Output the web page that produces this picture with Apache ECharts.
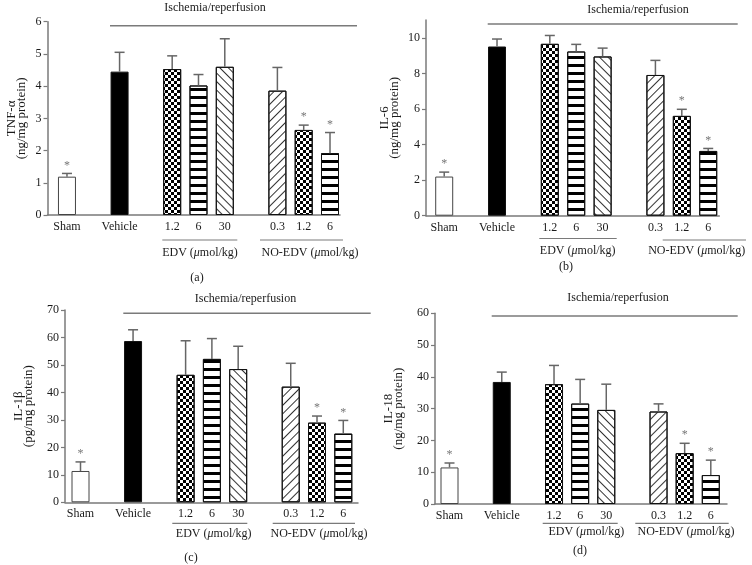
<!DOCTYPE html>
<html><head><meta charset="utf-8">
<script src="https://cdn.jsdelivr.net/npm/echarts@6/dist/echarts.min.js"></script>
<style>html,body{margin:0;padding:0;background:#fff}#c{width:752px;height:565px}</style>
</head><body><div id="c"></div>
<script>
// ---------------- data ----------------
const categories = ['Sham', 'Vehicle', '1.2', '6', '30', '0.3', '1.2', '6'];
const groupNames = ['EDV', 'NO-EDV'];
const groupUnit = ['\u03bc', 'mol/kg'];
const headerText = 'Ischemia/reperfusion';
const significant = [1, 0, 0, 0, 0, 0, 1, 1];

const tnfMean = [1.19, 4.45, 4.53, 4.02, 4.60, 3.86, 2.64, 1.92];
const tnfErr  = [0.10, 0.60, 0.41, 0.34, 0.87, 0.72, 0.15, 0.64];
const il6Mean = [2.20, 9.51, 9.66, 9.23, 8.95, 7.91, 5.61, 3.64];
const il6Err  = [0.25, 0.42, 0.47, 0.40, 0.47, 0.82, 0.37, 0.14];
const il1bMean = [11.4, 58.7, 46.4, 52.2, 48.5, 42.1, 29.0, 25.0];
const il1bErr  = [3.3, 4.1, 12.4, 7.4, 8.3, 8.5, 2.4, 4.8];
const il18Mean = [11.5, 38.4, 37.7, 31.6, 29.6, 29.1, 16.0, 9.1];
const il18Err  = [1.4, 3.1, 5.9, 7.6, 8.1, 2.4, 3.1, 4.7];

const tnfTicks = [0, 1, 2, 3, 4, 5, 6];
const il6Ticks = [0, 2, 4, 6, 8, 10];
const il1bTicks = [0, 10, 20, 30, 40, 50, 60, 70];
const il18Ticks = [0, 10, 20, 30, 40, 50, 60];

const yNames = ['TNF-\u03b1\n(ng/mg protein)', 'IL-6\n(ng/mg protein)', 'IL-1\u03b2\n(pg/mg protein)', 'IL-18\n(ng/mg protein)'];
const panelLetters = ['(a)', '(b)', '(c)', '(d)'];

// ---------------- layout / style ----------------
const FONT = 'Liberation Serif';
const slots = [0, 2, 4, 5, 6, 8, 9, 10];
const patterns = ['open', 'solid', 'checker', 'hstripe', 'bdiag', 'fdiag', 'checker', 'hstripe'];
const AX = '#7a7a7a';
const TXT = '#1a1a1a';

const decals = {
  checker: {symbol: 'rect', symbolSize: 1, dashArrayX: [[3, 3], [0, 3, 3, 0]], dashArrayY: [3, 0], color: '#000'},
  hstripe: {symbol: 'rect', symbolSize: 1, dashArrayX: [1, 0], dashArrayY: [3, 5], color: '#000'},
  bdiag: {symbol: 'rect', symbolSize: 1, dashArrayX: [1, 0], dashArrayY: [1, 5], rotation: Math.PI / 4, color: '#333'},
  fdiag: {symbol: 'rect', symbolSize: 1, dashArrayX: [1, 0], dashArrayY: [1, 5], rotation: -Math.PI / 4, color: '#333'}
};

const panels = [
  {mean: tnfMean, err: tnfErr, yMax: 6, ticks: tnfTicks,
   grid: {left: 47.5, top: 21.7, width: 292.5, height: 193.3}, xMin: -0.74, xMax: 10.38, nameGap: 21,
   title: [215, 8], isch: [110, 357, 25.7],
   groups: [[162.3, 237.3, 240, 200, 253], [260, 343, 240, 310, 253]], letter: [197, 278]},
  {mean: il6Mean, err: il6Err, yMax: 11, ticks: il6Ticks,
   grid: {left: 426, top: 20, width: 293.3, height: 195.7}, xMin: -0.69, xMax: 10.42, nameGap: 26,
   title: [638, 10], isch: [487.7, 737.7, 24],
   groups: [[539.3, 616.7, 238.5, 577.7, 251], [662.7, 746, 240, 696.7, 251]], letter: [566, 267]},
  {mean: il1bMean, err: il1bErr, yMax: 70, ticks: il1bTicks,
   grid: {left: 65, top: 310, width: 293, height: 192.3}, xMin: -0.59, xMax: 10.56, nameGap: 31,
   title: [245.5, 299.3], isch: [123.3, 370.7, 313.3],
   groups: [[172.3, 247.3, 523.3, 213.7, 534], [272.7, 355, 523.3, 319, 534]], letter: [191, 558]},
  {mean: il18Mean, err: il18Err, yMax: 60, ticks: il18Ticks,
   grid: {left: 435, top: 313.3, width: 292, height: 190.7}, xMin: -0.555, xMax: 10.62, nameGap: 31,
   title: [618, 298.3], isch: [491.7, 737.7, 316],
   groups: [[542.7, 617.7, 523.3, 586.3, 532], [635.3, 728.7, 523.3, 686, 532]], letter: [580, 551]}
];

function barItem(i, mean) {
  const p = patterns[i];
  const st = {borderColor: '#111', borderWidth: 1, color: '#fff'};
  if (p === 'solid') st.color = '#000';
  else if (p === 'open') st.borderColor = '#444';
  else st.decal = decals[p];
  return {value: [slots[i], mean[i]], itemStyle: st};
}

function renderErr(params, api) {
  const x = api.value(0), m = api.value(1), e = api.value(2), s = api.value(3);
  const p0 = api.coord([x, m]);
  const p1 = api.coord([x, m + e]);
  const ch = [
    {type: 'line', shape: {x1: p0[0], y1: p0[1], x2: p1[0], y2: p1[1]}, style: {stroke: '#666', lineWidth: 1.5}},
    {type: 'line', shape: {x1: p1[0] - 5, y1: p1[1], x2: p1[0] + 5, y2: p1[1]}, style: {stroke: '#666', lineWidth: 1.5}}
  ];
  if (s) ch.push({type: 'text', x: p1[0], y: p1[1] - 2, style: {text: '*', fill: '#777', font: '12px ' + FONT, align: 'center', verticalAlign: 'bottom'}});
  return {type: 'group', children: ch};
}

const grid = [], xAxis = [], yAxis = [], series = [], graphic = [];
const richUnit = {
  n: {fontFamily: FONT, fontSize: 12, fill: TXT, color: TXT},
  i: {fontFamily: FONT, fontSize: 12, fontStyle: 'italic', fill: TXT, color: TXT}
};
panels.forEach((P, k) => {
  grid.push(P.grid);
  xAxis.push({
    type: 'value', gridIndex: k, min: P.xMin, max: P.xMax,
    axisLine: {onZero: false, lineStyle: {color: AX, width: 1.5}},
    axisTick: {show: false}, splitLine: {show: false},
    axisLabel: {customValues: slots, formatter: v => categories[slots.indexOf(v)] || '',
      color: TXT, fontFamily: FONT, fontSize: 12, margin: 6}
  });
  yAxis.push({
    type: 'value', gridIndex: k, min: 0, max: P.yMax,
    name: yNames[k], nameLocation: 'middle', nameRotate: 90, nameGap: P.nameGap,
    nameTextStyle: {color: TXT, fontFamily: FONT, fontSize: 13, lineHeight: 10},
    axisLine: {show: true, onZero: false, lineStyle: {color: AX, width: 1.5}},
    axisTick: {show: true, length: 4, customValues: P.ticks, lineStyle: {color: AX, width: 1.2}},
    splitLine: {show: false},
    axisLabel: {customValues: P.ticks, color: TXT, fontFamily: FONT, fontSize: 12, margin: 6}
  });
  series.push({
    type: 'bar', xAxisIndex: k, yAxisIndex: k, barWidth: 18,
    data: P.mean.map((m, i) => barItem(i, P.mean)), z: 2, silent: true
  });
  series.push({
    type: 'custom', xAxisIndex: k, yAxisIndex: k, clip: false, z: 3, silent: true,
    renderItem: renderErr,
    data: P.mean.map((m, i) => [slots[i], m, P.err[i], significant[i]])
  });
  const tStyle = (txt, x, y) => ({type: 'text', x: x, y: y, style: {text: txt, fill: TXT, font: '12px ' + FONT, align: 'center', verticalAlign: 'middle'}});
  graphic.push(tStyle(headerText, P.title[0], P.title[1]));
  graphic.push({type: 'line', shape: {x1: P.isch[0], y1: P.isch[2], x2: P.isch[1], y2: P.isch[2]}, style: {stroke: AX, lineWidth: 1.5}});
  P.groups.forEach((g, gi) => {
    graphic.push({type: 'line', shape: {x1: g[0], y1: g[2], x2: g[1], y2: g[2]}, style: {stroke: AX, lineWidth: 1.2}});
    graphic.push({type: 'text', x: g[3], y: g[4], style: {
      text: '{n|' + groupNames[gi] + ' (}{i|' + groupUnit[0] + '}{n|' + groupUnit[1] + ')}',
      rich: richUnit, align: 'center', verticalAlign: 'middle', font: '12px ' + FONT, fill: TXT}});
  });
  graphic.push(tStyle(panelLetters[k], P.letter[0], P.letter[1]));
});

const chart = echarts.init(document.getElementById('c'), null, {renderer: 'canvas'});
chart.setOption({animation: false, backgroundColor: '#fff', grid, xAxis, yAxis, series, graphic});
</script></body></html>
